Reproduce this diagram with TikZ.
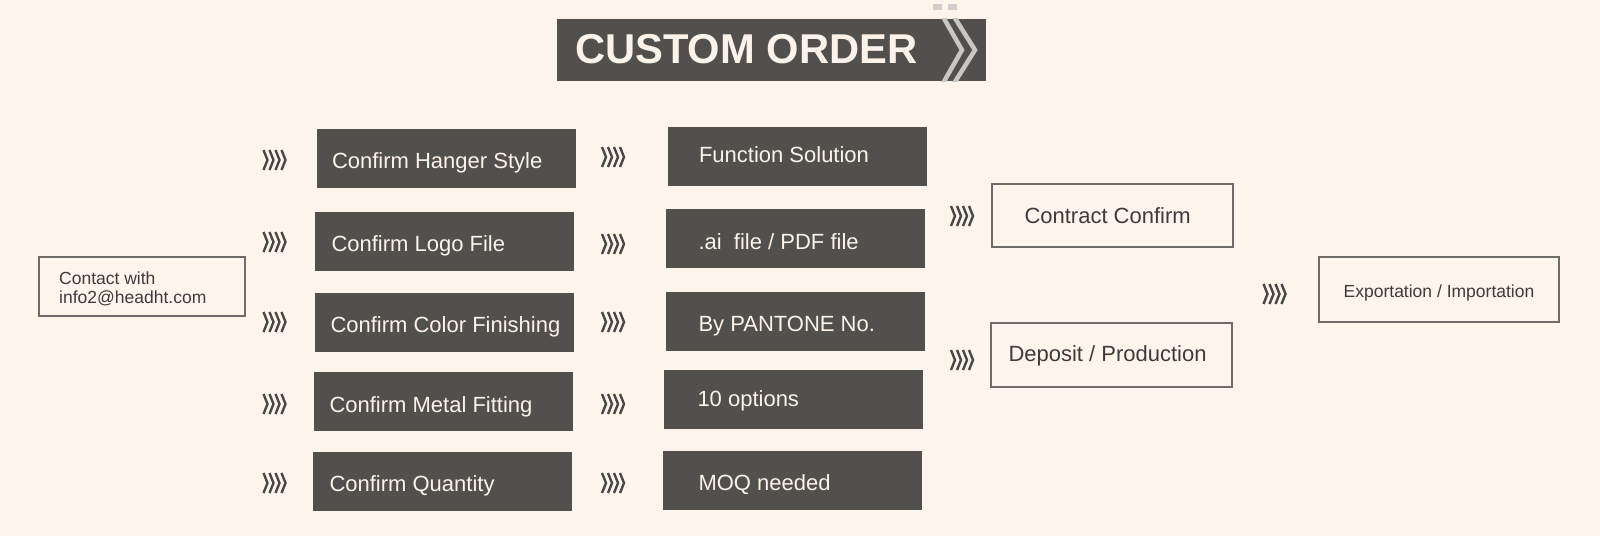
\documentclass[tikz,border=0pt]{standalone}
\usepackage{fontspec}
\setmainfont{Liberation Sans}
\definecolor{bg}{HTML}{FDF4EC}
\definecolor{dark}{HTML}{52504D}
\definecolor{cream}{HTML}{FBF2E9}
\definecolor{edge}{HTML}{6E6B68}
\definecolor{ink}{HTML}{3E3C3A}
\definecolor{chev}{HTML}{4A4846}
\definecolor{lite}{HTML}{C9C7C5}
\tikzset{
  darkbox/.style={fill=dark, draw=dark, minimum width=258pt, minimum height=58pt, inner sep=0pt},
  linebox/.style={draw=edge, line width=1.4pt, inner sep=0pt},
  wlbl/.style={anchor=west, inner sep=0pt, text=cream, font=\fontsize{22}{26}\selectfont, text height=15.5pt, text depth=4.5pt},
  blbl/.style={inner sep=0pt, text=ink, font=\fontsize{22}{26}\selectfont, text height=15.5pt, text depth=4.5pt},
  chevs/.pic={\foreach \i in {0,6,12,18} \draw[chev, line width=2.4pt] (\i-11,-10) -- (\i-7,0) -- (\i-11,10);}
}
\begin{document}
\begin{tikzpicture}[x=1pt,y=-1pt]
\useasboundingbox (0,0) rectangle (1600,536);
\fill[bg] (0,0) rectangle (1600,536);
% title
\node[fill=dark, minimum width=429pt, minimum height=62pt, inner sep=0pt] (title) at (771.5,50) {};
\begin{scope}
\clip (title.south west) rectangle (title.north east);
\draw[lite, line width=4.5pt] (942,15) -- (962,50) -- (942,85);
\draw[lite, line width=4.5pt] (953,15) -- (975,50) -- (953,85);
\end{scope}
\fill[lite!85!bg] (933,4) rectangle (942,10);
\fill[lite!85!bg] (948,4) rectangle (957,10);
\node[anchor=west, inner sep=0pt, text=cream, font=\bfseries\fontsize{41.7}{44}\selectfont] (titletext) at (575,49) {CUSTOM ORDER};
% contact
\node[linebox, minimum width=206pt, minimum height=59pt] (contact) at (142,286.5) {};
\node[anchor=west, inner sep=0pt, align=left, text=ink, font=\fontsize{17.5}{18.5}\selectfont] (contacttext) at (59,289) {Contact with\\info2@headht.com};
% left column
\node[darkbox] (b1) at (446,158) {};
\node[darkbox] (b2) at (444.5,241) {};
\node[darkbox] (b3) at (444.5,322) {};
\node[darkbox] (b4) at (443.5,401.5) {};
\node[darkbox] (b5) at (442.5,481) {};
\node[wlbl] (tb1) at ([xshift=15pt,yshift=-5pt]b1.west) {Confirm Hanger Style};
\node[wlbl] (tb2) at ([xshift=16pt,yshift=-5pt]b2.west) {Confirm Logo File};
\node[wlbl] (tb3) at ([xshift=15pt,yshift=-5pt]b3.west) {Confirm Color Finishing};
\node[wlbl] (tb4) at ([xshift=15pt,yshift=-5pt]b4.west) {Confirm Metal Fitting};
\node[wlbl] (tb5) at ([xshift=16pt,yshift=-5pt]b5.west) {Confirm Quantity};
% middle column
\node[darkbox] (m1) at (797,156) {};
\node[darkbox] (m2) at (795.5,238) {};
\node[darkbox] (m3) at (795.5,321) {};
\node[darkbox] (m4) at (793.5,399.5) {};
\node[darkbox] (m5) at (792.5,480) {};
\node[wlbl] (tm1) at ([xshift=31pt,yshift=-1pt]m1.west) {Function Solution};
\node[wlbl] (tm2) at ([xshift=32pt,yshift=-6pt]m2.west) {.ai\ \ file / PDF file};
\node[wlbl] (tm3) at ([xshift=32pt,yshift=-5pt]m3.west) {By PANTONE No.};
\node[wlbl] (tm4) at ([xshift=33pt,yshift=-1pt]m4.west) {10 options};
\node[wlbl] (tm5) at ([xshift=35pt,yshift=-5pt]m5.west) {MOQ needed};
% right column
\node[linebox, minimum width=241pt, minimum height=63pt] (contract) at (1112.5,215.5) {};
\node[blbl, anchor=west] (contracttext) at ([xshift=33pt,yshift=-2pt]contract.west) {Contract Confirm};
\node[linebox, minimum width=241pt, minimum height=64pt] (deposit) at (1111.5,355) {};
\node[blbl, anchor=west] (deposittext) at ([xshift=18pt,yshift=-1pt]deposit.west) {Deposit / Production};
\node[linebox, minimum width=240pt, minimum height=65pt] (export) at (1439,289.5) {};
\node[inner sep=0pt, text=ink, font=\fontsize{17.5}{20}\selectfont] (exporttext) at ([yshift=-3pt]export.center) {Exportation / Importation};
% chevron arrows
\foreach \y in {160,242,322,404,483} \pic at (274.5,\y) {chevs};
\foreach \y in {157,244,322,404,483} \pic at (613,\y) {chevs};
\foreach \y in {216,360} \pic at (962,\y) {chevs};
\pic at (1274.5,294) {chevs};
\end{tikzpicture}
\end{document}
